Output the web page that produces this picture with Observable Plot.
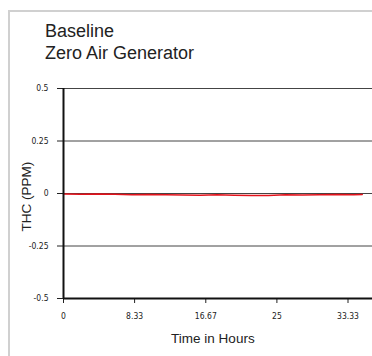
<!DOCTYPE html>
<html><head><meta charset="utf-8">
<script src="https://cdn.jsdelivr.net/npm/d3@7"></script>
<script src="https://cdn.jsdelivr.net/npm/@observablehq/plot@0.6"></script>
<style>
body{margin:0;background:#fff;width:372px;height:356px;overflow:hidden;position:relative;font-family:"Liberation Sans",Arial,sans-serif;}
#frame{position:absolute;left:8px;top:10px;width:400px;height:400px;border-left:2px solid #d0d0d0;border-top:2px solid #d0d0d0;}
#title{position:absolute;left:45px;top:20px;font-size:18px;line-height:22px;color:#222;}
#chart{position:absolute;left:0;top:0;}
</style></head><body>
<div id="frame"></div>
<div id="chart"></div>
<div id="title">Baseline<br>Zero Air Generator</div>
<script>
const hours = [0, 2, 4, 6, 8, 10, 12, 14, 16, 18, 20, 22, 24, 26, 28, 30, 32, 34, 35];
const thc = [-0.002, -0.003, -0.002, -0.004, -0.006, -0.005, -0.006, -0.007, -0.008, -0.006, -0.008, -0.009, -0.009, -0.006, -0.007, -0.006, -0.005, -0.006, -0.005];
const xTicks = [0, 8.33, 16.67, 25, 33.33];
const xTickLabels = ["0", "8.33", "16.67", "25", "33.33"];
const yTicks = [-0.5, -0.25, 0, 0.25, 0.5];
const yTickLabels = ["-0.5", "-0.25", "0", "0.25", "0.5"];

const data = hours.map((h, i) => ({h, v: thc[i]}));
const tickFont = "'Liberation Sans Narrow','DejaVu Sans Condensed',sans-serif";

const chart = Plot.plot({
  width: 372, height: 356,
  marginLeft: 63, marginRight: 0, marginTop: 88, marginBottom: 58,
  x: {domain: [0, 36.2]},
  y: {domain: [-0.5, 0.5]},
  style: {background: "transparent", overflow: "visible"},
  marks: [
    Plot.ruleY(yTicks.filter(d => d > -0.5), {stroke: "#444", strokeWidth: 1}),
    Plot.axisY({ticks: yTicks, tickSize: 6, tickPadding: 9, tickFormat: d => yTickLabels[yTicks.indexOf(d)],
      fontSize: 8.5, fontFamily: tickFont, stroke: "#222", fill: "#222", label: null}),
    Plot.axisX({ticks: xTicks, tickSize: 5, tickPadding: 9, tickFormat: d => xTickLabels[xTicks.indexOf(d)],
      fontSize: 8.5, fontFamily: tickFont, stroke: "#222", fill: "#222", label: null}),
    Plot.line(data, {x: "h", y: "v", stroke: "#e3121b", strokeWidth: 1.5}),
    Plot.ruleX([0], {stroke: "#111", strokeWidth: 2}),
    Plot.ruleY([-0.5], {stroke: "#111", strokeWidth: 2}),
    Plot.text(["Time in Hours"], {frameAnchor: "bottom", dy: 44, x: 17.5, fontSize: 13.5, fill: "#222", fontFamily: "'Liberation Sans',sans-serif"}),
    Plot.text(["THC (PPM)"], {frameAnchor: "left", textAnchor: "middle", dx: -37, y: -0.015, rotate: -90, fontSize: 13.5, fill: "#222", fontFamily: "'Liberation Sans',sans-serif"})
  ]
});
document.getElementById("chart").appendChild(chart);
</script>
</body></html>
